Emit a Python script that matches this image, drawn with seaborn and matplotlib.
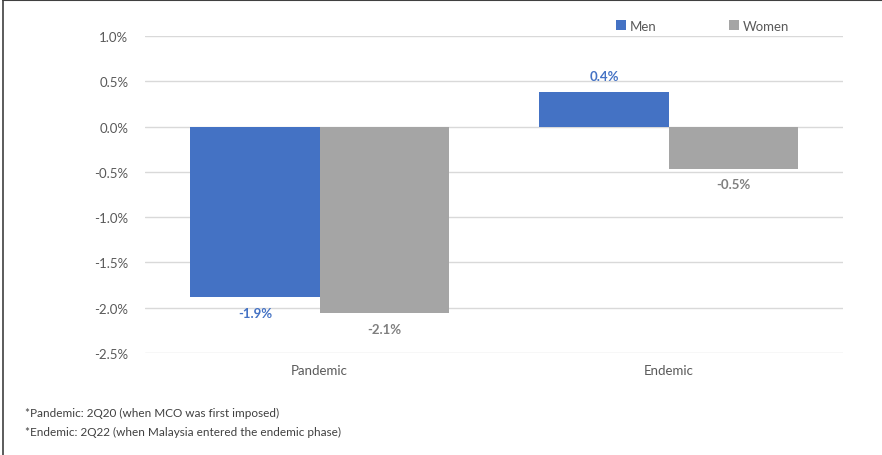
import matplotlib
matplotlib.use("Agg")
import matplotlib.pyplot as plt
from matplotlib.lines import Line2D
from matplotlib.patches import Patch
import pandas as pd
import seaborn as sns

# Change in employment by sex, per phase (percent)
phases = ["Pandemic", "Endemic"]
men = [-1.88, 0.385]
women = [-2.06, -0.465]
series = ["Men", "Women"]
colors = {"Men": "#4472C4", "Women": "#A5A5A5"}
label_colors = {"Men": "#4472C4", "Women": "#7F7F7F"}
yticks = [1.0, 0.5, 0.0, -0.5, -1.0, -1.5, -2.0, -2.5]
footnotes = [
    "*Pandemic: 2Q20 (when MCO was first imposed)",
    "*Endemic: 2Q22 (when Malaysia entered the endemic phase)",
]

df = pd.DataFrame({
    "Phase": phases * 2,
    "Sex": ["Men"] * len(phases) + ["Women"] * len(phases),
    "Change": men + women,
})

sns.set_theme(style="white")
plt.rcParams["font.family"] = ["Lato", "DejaVu Sans"]

fig = plt.figure(figsize=(8.82, 4.56), dpi=100)
ax = fig.add_axes([0.1644, 0.2237, 0.7914, 0.6952])

sns.barplot(data=df, x="Phase", y="Change", hue="Sex", order=phases,
            hue_order=series, palette=colors, width=0.74, gap=0,
            linewidth=0, saturation=1, ax=ax, legend=False, errorbar=None)

ax.set_xlim(-0.5, 1.5)
ax.set_ylim(-2.5, 1.0)
ax.set_yticks(yticks)
ax.set_yticklabels([f"{t:.1f}%" for t in yticks])
ax.grid(axis="y", color="#D9D9D9", linewidth=1)
ax.grid(axis="x", visible=False)
ax.set_axisbelow(True)
for s in ax.spines.values():
    s.set_visible(False)
ax.set_xlabel("")
ax.set_ylabel("")
ax.tick_params(axis="y", colors="#595959", labelsize=9.5, length=0, pad=12)
ax.tick_params(axis="x", colors="#595959", labelsize=9.5, length=0, pad=8)

for container, name in zip(ax.containers, series):
    ax.bar_label(container, labels=[f"{v:.1f}%" for v in container.datavalues],
                 padding=7, color=label_colors[name], fontsize=9.5,
                 fontweight="bold")

handles = [Patch(facecolor=colors[n], edgecolor="none", label=n) for n in series]
fig.legend(handles=handles, loc="center", bbox_to_anchor=(0.797, 0.941),
           ncol=2, frameon=False, fontsize=9.5, handlelength=0.75,
           handleheight=0.75, handletextpad=0.3, columnspacing=5.5,
           labelcolor="#595959")

for i, line in enumerate(footnotes):
    fig.text(0.028, 1 - (413 + 19 * i) / 456, line, fontsize=8.5,
             color="#404040", va="center", ha="left")

# Frame lines along the top and left edges
fig.add_artist(Line2D([0.003, 1.0], [0.997, 0.997], color="#404040",
                      linewidth=1.5, transform=fig.transFigure))
fig.add_artist(Line2D([0.003, 0.003], [0.0, 0.997], color="#404040",
                      linewidth=1.2, transform=fig.transFigure))

fig.savefig("out.png", dpi=100)
